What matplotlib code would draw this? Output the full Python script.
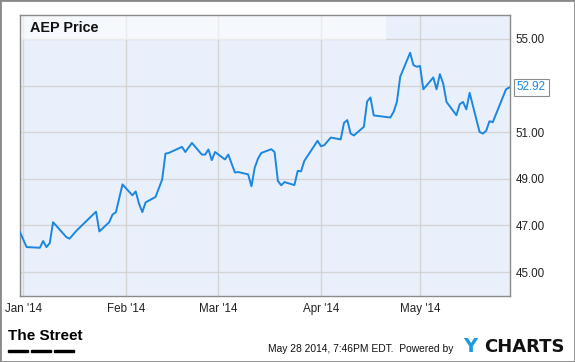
import pandas as pd
from matplotlib import pyplot as plt
from matplotlib.dates import DateFormatter, MonthLocator
from matplotlib.patches import Rectangle

# AEP closing prices (turning points)
dates = ['2013-12-31', '2014-01-02', '2014-01-06', '2014-01-07', '2014-01-08', '2014-01-09',
         '2014-01-10', '2014-01-14', '2014-01-15', '2014-01-17', '2014-01-23', '2014-01-24',
         '2014-01-27', '2014-01-28', '2014-01-29', '2014-01-31', '2014-02-03', '2014-02-04',
         '2014-02-05', '2014-02-06', '2014-02-07', '2014-02-10', '2014-02-12', '2014-02-13',
         '2014-02-14', '2014-02-18', '2014-02-19', '2014-02-21', '2014-02-24', '2014-02-25',
         '2014-02-26', '2014-02-27', '2014-02-28', '2014-03-03', '2014-03-04', '2014-03-06',
         '2014-03-07', '2014-03-10', '2014-03-11', '2014-03-12', '2014-03-13', '2014-03-14',
         '2014-03-17', '2014-03-18', '2014-03-19', '2014-03-20', '2014-03-21', '2014-03-24',
         '2014-03-25', '2014-03-26', '2014-03-27', '2014-03-31', '2014-04-01', '2014-04-02',
         '2014-04-04', '2014-04-07', '2014-04-08', '2014-04-09', '2014-04-10', '2014-04-11',
         '2014-04-14', '2014-04-15', '2014-04-16', '2014-04-17', '2014-04-22', '2014-04-23',
         '2014-04-24', '2014-04-25', '2014-04-28', '2014-04-29', '2014-04-30', '2014-05-01',
         '2014-05-02', '2014-05-05', '2014-05-06', '2014-05-07', '2014-05-08', '2014-05-09',
         '2014-05-12', '2014-05-13', '2014-05-14', '2014-05-15', '2014-05-16', '2014-05-19',
         '2014-05-20', '2014-05-21', '2014-05-22', '2014-05-23', '2014-05-27', '2014-05-28']
prices = [46.71, 46.07, 46.04, 46.33, 46.07, 46.24,
          47.14, 46.50, 46.43, 46.76, 47.59, 46.74,
          47.14, 47.47, 47.56, 48.76, 48.29, 48.46,
          47.93, 47.57, 47.99, 48.22, 48.97, 50.08,
          50.11, 50.37, 50.15, 50.54, 50.04, 50.04,
          50.26, 49.80, 50.15, 49.83, 50.04, 49.27,
          49.29, 49.19, 48.68, 49.48, 49.87, 50.11,
          50.27, 50.15, 48.91, 48.72, 48.86, 48.73,
          49.34, 49.32, 49.77, 50.63, 50.40, 50.44,
          50.77, 50.69, 51.40, 51.52, 50.94, 50.86,
          51.23, 52.32, 52.49, 51.72, 51.63, 51.87,
          52.30, 53.38, 54.41, 53.88, 53.81, 53.84,
          52.84, 53.35, 52.84, 53.49, 53.09, 52.30,
          51.73, 52.20, 52.30, 51.98, 52.69, 51.01,
          50.94, 51.06, 51.47, 51.43, 52.84, 52.92]
y_ticks = [45, 47, 49, 51, 53, 55]

BLUE = '#1a87e0'
W, H = 575, 362

plt.rcParams['font.family'] = ['Liberation Sans', 'DejaVu Sans']

dates = pd.to_datetime(dates)

fig = plt.figure(figsize=(W / 100, H / 100), dpi=100)
fig.patches.append(Rectangle((0, 0), 1, 1, transform=fig.transFigure, fill=False,
                             edgecolor='#8a8a8a', linewidth=2))

ax = fig.add_axes([20 / W, (H - 296) / H, 490 / W, 281 / H])
ax.set_facecolor('#eaf0fb')
ax.plot(dates, prices, color=BLUE, linewidth=1.4, zorder=3)

ax.set_xlim(pd.Timestamp('2013-12-31'), pd.Timestamp('2014-05-28 05:00'))
ax.set_ylim(43.97, 56.03)

ax.xaxis.set_major_locator(MonthLocator())
ax.xaxis.set_major_formatter(DateFormatter("%b '%y"))
ax.set_yticks(y_ticks)
# the 53.00 label is covered by the last-value tag
ax.set_yticklabels(['' if v == 53 else f'{v:.2f}' for v in y_ticks])
ax.yaxis.tick_right()
ax.tick_params(axis='both', length=0, labelsize=8.4, labelcolor='#222222')
ax.tick_params(axis='y', pad=4)
ax.tick_params(axis='x', pad=5)
ax.grid(True, color='#d4d4d4', linewidth=1)
for s in ax.spines.values():
    s.set_color('#8a8a8a')
    s.set_linewidth(1)

# title box
ax.add_patch(Rectangle((0, 1 - 25 / 281), 366 / 490, 25 / 281, transform=ax.transAxes,
                       facecolor='white', alpha=0.55, edgecolor='none', zorder=2))
ax.text(10 / 490, 1 - 13 / 281, 'AEP Price', transform=ax.transAxes, fontsize=10.4,
        fontweight='bold', va='center', ha='left', color='#111111', zorder=4)

# last value label
ax.annotate(f'{prices[-1]:.2f}', xy=(1, prices[-1]), xycoords=('axes fraction', 'data'),
            xytext=(5, 0), textcoords='offset points', va='center', ha='left',
            fontsize=8.4, color=BLUE, annotation_clip=False,
            bbox=dict(boxstyle='square,pad=0.25', facecolor='white', edgecolor='#8a8a8a',
                      linewidth=0.8))

# footer
fig.text(8 / W, 1 - 336 / H, 'The Street', fontsize=11, fontweight='bold',
         va='center', ha='left')
for x0 in (8, 31, 54):
    fig.patches.append(Rectangle((x0 / W, 1 - 352 / H), 20 / W, 2 / H,
                                 transform=fig.transFigure, color='black'))
fig.text(268 / W, 1 - 349 / H, 'May 28 2014, 7:46PM EDT.  Powered by', fontsize=7.4,
         va='center', ha='left', color='#111111')
fig.text(463 / W, 1 - 347 / H, 'Y', fontsize=14, fontweight='heavy', color='#1b9ae0',
         family='DejaVu Sans', va='center', ha='left')
fig.text(484 / W, 1 - 347 / H, 'CHARTS', fontsize=13, fontweight='heavy', color='#111111',
         family='DejaVu Sans', va='center', ha='left')

fig.savefig('out.png', dpi=100)
